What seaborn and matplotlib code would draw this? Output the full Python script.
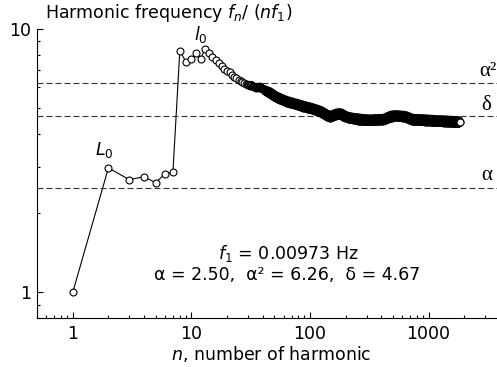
import matplotlib
matplotlib.use("Agg")
import matplotlib.pyplot as plt
import seaborn as sns
import pandas as pd
from matplotlib.ticker import LogLocator, NullFormatter, FixedLocator, FixedFormatter

sns.set_style("ticks")
plt.rcParams["font.family"] = ["DejaVu Sans"]
plt.rcParams["mathtext.fontset"] = "dejavusans"
for k in ("text.color", "axes.labelcolor", "xtick.color", "ytick.color", "axes.edgecolor"):
    plt.rcParams[k] = "black"

# ---- data ----
n_a = list(range(1, 61))
r_a = [1.00, 2.97, 2.68, 2.75, 2.61, 2.82, 2.87, 8.26, 7.52, 7.68,
       8.13, 7.70, 8.40, 8.09, 7.85, 7.63, 7.41, 7.24, 7.05, 6.93,
       6.84, 6.70, 6.58, 6.52, 6.41, 6.36, 6.30, 6.22, 6.18, 6.14,
       6.10, 6.13, 6.06, 6.02, 5.98, 6.03, 5.99, 6.04, 5.97, 5.92,
       5.92, 5.80, 5.86, 5.74, 5.80, 5.67, 5.73, 5.60, 5.66, 5.54,
       5.59, 5.49, 5.54, 5.43, 5.50, 5.39, 5.46, 5.36, 5.42, 5.32]
n_b = list(range(62, 101, 2))
r_b = [5.38, 5.25, 5.33, 5.21, 5.29, 5.17, 5.25, 5.13, 5.22, 5.10,
       5.18, 5.07, 5.15, 5.03, 5.12, 5.01, 5.09, 4.98, 5.07, 4.96]
n_c = list(range(103, 152, 3))
r_c = [5.04, 4.92, 5.00, 4.88, 4.96, 4.84, 4.92, 4.80, 4.87, 4.74,
       4.81, 4.68, 4.75, 4.63, 4.71, 4.60, 4.71]
n_d = list(range(155, 200, 4))
r_d = [4.63, 4.75, 4.67, 4.79, 4.70, 4.81, 4.71, 4.80, 4.68, 4.75, 4.62, 4.70]
n_e = list(range(205, 301, 5))
r_e = [4.58, 4.66, 4.55, 4.64, 4.54, 4.62, 4.52, 4.61, 4.50, 4.60,
       4.49, 4.59, 4.48, 4.58, 4.47, 4.57, 4.47, 4.57, 4.46, 4.56]
n_f = list(range(310, 501, 10))
r_f = [4.46, 4.56, 4.46, 4.56, 4.46, 4.57, 4.47, 4.57, 4.47, 4.57,
       4.48, 4.58, 4.50, 4.62, 4.54, 4.66, 4.58, 4.70, 4.61, 4.72]
n_g = list(range(515, 801, 15))
r_g = [4.63, 4.73, 4.63, 4.72, 4.62, 4.71, 4.61, 4.70, 4.60, 4.68,
       4.56, 4.64, 4.52, 4.60, 4.49, 4.58, 4.47, 4.57, 4.47, 4.57]
n_h = list(range(820, 1201, 20))
r_h = [4.47, 4.57, 4.46, 4.56, 4.46, 4.56, 4.45, 4.55, 4.45, 4.55,
       4.44, 4.54, 4.44, 4.54, 4.43, 4.53, 4.43, 4.52, 4.42, 4.52]
n_i = list(range(1230, 1831, 30))
r_i = [4.42, 4.52, 4.42, 4.52, 4.41, 4.51, 4.41, 4.51, 4.40, 4.50,
       4.40, 4.50, 4.39, 4.49, 4.39, 4.49, 4.38, 4.48, 4.38, 4.48, 4.42]

alpha_val = 2.50
alpha2_val = 6.26
delta_val = 4.67
f1_text = "0.00973"

x_ticks = [1, 10, 100, 1000]
x_ticklabels = ["1", "10", "100", "1000"]
y_ticks = [1, 10]
y_ticklabels = ["1", "10"]

n_all = n_a + n_b + n_c + n_d + n_e + n_f + n_g + n_h + n_i
r_all = r_a + r_b + r_c + r_d + r_e + r_f + r_g + r_h + r_i
assert len(n_all) == len(r_all)
df = pd.DataFrame({"n": n_all, "ratio": r_all})
mid = df[(df["n"] >= 30) & (df["n"] < 44)]
dense = df[(df["n"] >= 44) & (df["n"] < df["n"].max())]
last = df.tail(1)

FS = 12.5

# ---- figure ----
fig = plt.figure(figsize=(4.97, 3.67), dpi=100)
ax = fig.add_axes([37 / 497, 49 / 367, (506 - 37) / 497, (318 - 29) / 367])

dash = (0, (5.4, 2.7))
for v in (alpha2_val, delta_val, alpha_val):
    ax.axhline(v, color="#333333", lw=0.8, linestyle=dash, zorder=1)

sns.lineplot(data=df, x="n", y="ratio", ax=ax, sort=False, estimator=None,
             color="black", lw=0.8, marker="o", markersize=5,
             markerfacecolor="white", markeredgecolor="black",
             markeredgewidth=0.8, zorder=3)
# overlapping outlines merge into a darker / solid band
sns.scatterplot(data=mid, x="n", y="ratio", ax=ax, marker="o", s=25,
                facecolors="none", edgecolor="black", linewidth=0.9, zorder=4)
sns.scatterplot(data=dense, x="n", y="ratio", ax=ax, marker="o", s=26,
                facecolors="none", edgecolor="black", linewidth=1.5, zorder=4)
sns.scatterplot(data=last, x="n", y="ratio", ax=ax, marker="o", s=25,
                color="white", edgecolor="black", linewidth=0.8, zorder=5)

ax.set_xscale("log")
ax.set_yscale("log")
ax.set_xlim(0.5, 4500)
ax.set_ylim(0.8, 10)

ax.xaxis.set_major_locator(FixedLocator(x_ticks))
ax.xaxis.set_major_formatter(FixedFormatter(x_ticklabels))
ax.xaxis.set_minor_locator(LogLocator(base=10, subs=range(2, 10)))
ax.xaxis.set_minor_formatter(NullFormatter())
ax.yaxis.set_major_locator(FixedLocator(y_ticks))
ax.yaxis.set_major_formatter(FixedFormatter(y_ticklabels))
ax.yaxis.set_minor_locator(LogLocator(base=10, subs=range(2, 10)))
ax.yaxis.set_minor_formatter(NullFormatter())

ax.tick_params(which="major", direction="in", length=4.5, width=0.8,
               labelsize=FS, pad=4, color="black", labelcolor="black")
ax.tick_params(which="minor", direction="in", length=2.5, width=0.8, color="black")
ax.tick_params(axis="x", which="major", pad=5)

for s in ("top", "right"):
    ax.spines[s].set_visible(False)
for s in ("left", "bottom"):
    ax.spines[s].set_linewidth(0.8)
    ax.spines[s].set_color("black")

ax.set_xlabel("$n$, number of harmonic", fontsize=FS, labelpad=1)
ax.set_ylabel("")

fig.text(45 / 497, 1 - 13 / 367, r"Harmonic frequency $f_n$/ ($nf_1$)",
         fontsize=FS, ha="left", va="center")

ax.text(1.84, 3.48, r"$L_0$", fontsize=FS, ha="center", va="center")
ax.text(12.0, 9.5, r"$l_0$", fontsize=FS, ha="center", va="center")

serif = ["Liberation Serif", "DejaVu Serif"]
ax.text(2700, alpha2_val * 1.01, "\u03b1\u00b2", fontsize=15, family=serif,
        ha="left", va="bottom")
ax.text(2800, delta_val * 1.01, "\u03b4", fontsize=15, family=serif,
        ha="left", va="bottom")
ax.text(2800, alpha_val * 1.02, "\u03b1", fontsize=15, family=serif,
        ha="left", va="bottom")

fig.text(288 / 497, 1 - 253 / 367, r"$f_1$ = " + f1_text + " Hz",
         fontsize=FS, ha="center", va="center")
fig.text(287 / 497, 1 - 275 / 367,
         "\u03b1 = %.2f,  \u03b1\u00b2 = %.2f,  \u03b4 = %.2f" % (alpha_val, alpha2_val, delta_val),
         fontsize=FS, ha="center", va="center")

fig.savefig("out.png", dpi=100)
